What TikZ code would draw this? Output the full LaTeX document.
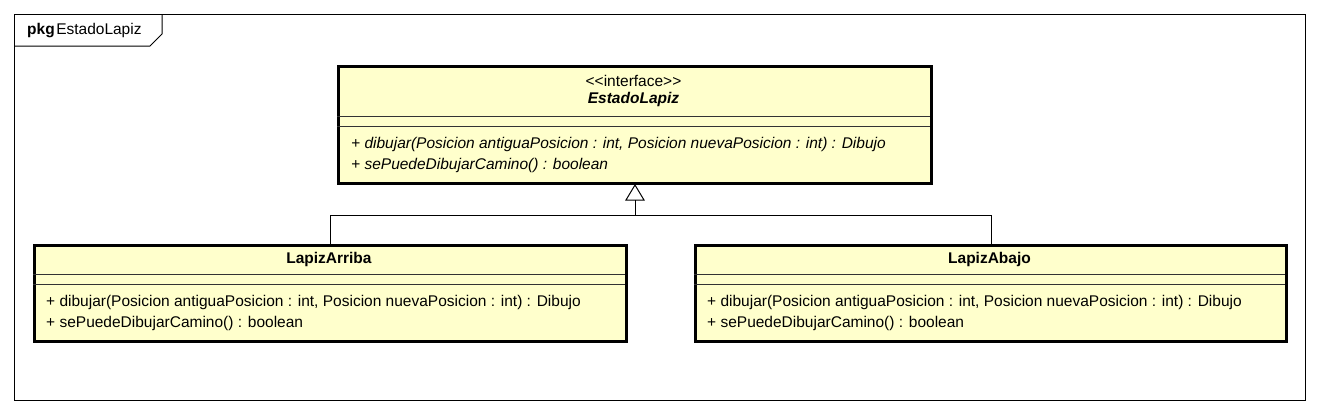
\documentclass[tikz,border=0pt]{standalone}
\usepackage{fontspec}
\setmainfont{Liberation Sans}
\usetikzlibrary{calc}
\definecolor{umlfill}{RGB}{255,255,204}
\tikzset{
  umlbox/.style={draw=black, line width=3pt, fill=umlfill, inner sep=0pt, anchor=north west},
  sepline/.style={draw=black!80, line width=1pt},
  conn/.style={draw=black, line width=1pt},
  txt/.style={inner sep=0pt, font=\fontsize{15.5pt}{18pt}\selectfont},
  mtxt/.style={txt, anchor=west},
}
\begin{document}
\begin{tikzpicture}[x=1pt,y=-1pt]
\useasboundingbox (0,0) rectangle (1318,413);
% package frame
\draw[conn] (14,14) rectangle (1305,400);
\draw[conn] (14,46) -- (150,46) -- (162,34) -- (162,14);
\node[txt, anchor=west] (pkg) at (27,31) {\textbf{pkg}\hspace{1.5pt}EstadoLapiz};
% interface
\node[umlbox, minimum width=593pt, minimum height=117pt] (iface) at (337,65) {};
\draw[sepline] (337,116) -- (930,116);
\draw[sepline] (337,126) -- (930,126);
\node[txt] (stereo) at (633.5,81) {{<}{<}interface{>}{>}};
\node[txt] (ifname) at (633.5,99) {\textbf{\itshape EstadoLapiz}};
\node[mtxt] (im1) at (351,144) {\itshape + dibujar(Posicion antiguaPosicion : int, Posicion nuevaPosicion : int) : Dibujo};
\node[mtxt] (im2) at (351,165) {\itshape + sePuedeDibujarCamino() : boolean};
% LapizArriba
\node[umlbox, minimum width=592pt, minimum height=96pt] (arriba) at (33,244) {};
\draw[sepline] (33,274) -- (625,274);
\draw[sepline] (33,284) -- (625,284);
\node[txt] (arname) at (329,259) {\textbf{LapizArriba}};
\node[mtxt] (am1) at (46,302) {+ dibujar(Posicion antiguaPosicion : int, Posicion nuevaPosicion : int) : Dibujo};
\node[mtxt] (am2) at (46,323) {+ sePuedeDibujarCamino() : boolean};
% LapizAbajo
\node[umlbox, minimum width=591pt, minimum height=96pt] (abajo) at (694,244) {};
\draw[sepline] (694,274) -- (1285,274);
\draw[sepline] (694,284) -- (1285,284);
\node[txt] (abname) at (989.5,259) {\textbf{LapizAbajo}};
\node[mtxt] (bm1) at (707,302) {+ dibujar(Posicion antiguaPosicion : int, Posicion nuevaPosicion : int) : Dibujo};
\node[mtxt] (bm2) at (707,323) {+ sePuedeDibujarCamino() : boolean};
% generalization
\coordinate (apex) at (iface.south);
\coordinate (gen) at ($(apex)+(0,15)$);
\coordinate (junc) at ($(apex)+(0,30)$);
\draw[conn, fill=white, line join=miter] (apex) -- ($(gen)+(-9,0)$) -- ($(gen)+(9,0)$) -- cycle;
\draw[conn] (gen) -- (junc);
\draw[conn] (junc) -| (arriba.north);
\draw[conn] (junc) -| (abajo.north);
\end{tikzpicture}
\end{document}
